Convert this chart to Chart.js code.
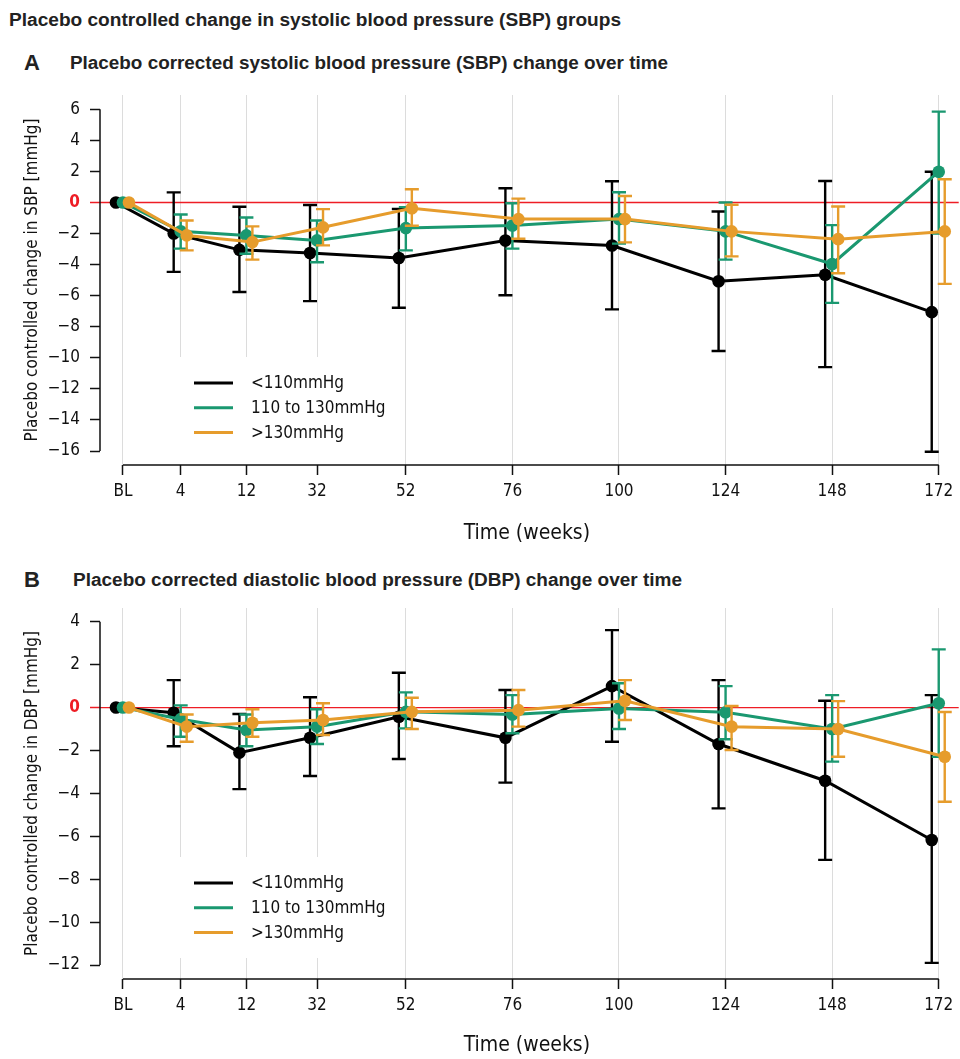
<!DOCTYPE html>
<html>
<head>
<meta charset="utf-8">
<script src="https://cdn.jsdelivr.net/npm/chart.js@4.4.1/dist/chart.umd.min.js"></script>
<style>
  body { margin: 0; background: #fff; width: 960px; height: 1059px; position: relative; overflow: hidden;
         font-family: "Liberation Sans", Arial, sans-serif; color: #222; }
  .h { position: absolute; font-weight: bold; white-space: nowrap; line-height: 1; transform-origin: 0 50%; }
  #main { left: 9px; top: 11px; font-size: 18px; }
  .tag { font-size: 22px; }
  .sub { font-size: 18px; }
  .box { position: absolute; left: 0; width: 960px; }
  #boxA { top: 80px; height: 480px; }
  #boxB { top: 590px; height: 469px; }
</style>
</head>
<body>
<div class="h" id="main" data-w="612">Placebo controlled change in systolic blood pressure (SBP) groups</div>
<div class="h tag" style="left:24px;top:52px">A</div>
<div class="h sub" style="left:70px;top:54px" data-w="598">Placebo corrected systolic blood pressure (SBP) change over time</div>
<div class="h tag" style="left:24px;top:569px">B</div>
<div class="h sub" style="left:73px;top:571px" data-w="609">Placebo corrected diastolic blood pressure (DBP) change over time</div>
<div class="box" id="boxA"><canvas id="chartA"></canvas></div>
<div class="box" id="boxB"><canvas id="chartB"></canvas></div>
<script>
// ---- data ----
var weeks = [0, 4, 12, 32, 52, 76, 100, 124, 148, 172];
var weekLabels = ["BL", "4", "12", "32", "52", "76", "100", "124", "148", "172"];
var groups = ["<110mmHg", "110 to 130mmHg", ">130mmHg"];

// SBP (panel A): mean, upper and lower CI
var sbpLow   = [0, -2.0, -3.05, -3.25, -3.57, -2.45, -2.77, -5.07, -4.65, -7.06];
var sbpLowHi = [null, 0.65, -0.27, -0.16, -0.42, 0.92, 1.37, -0.58, 1.38, 1.98];
var sbpLowLo = [null, -4.47, -5.76, -6.35, -6.78, -5.97, -6.88, -9.56, -10.6, -16.05];
var sbpMid   = [0, -1.85, -2.12, -2.44, -1.65, -1.48, -1.07, -1.86, -3.96, 1.98];
var sbpMidHi = [null, -0.77, -0.97, -1.16, -0.3, -0.05, 0.66, 0, -1.46, 5.85];
var sbpMidLo = [null, -2.97, -3.3, -3.85, -3.08, -2.97, -2.65, -3.68, -6.46, -2.0];
var sbpHigh   = [0, -2.12, -2.55, -1.6, -0.37, -1.07, -1.07, -1.86, -2.36, -1.86];
var sbpHighHi = [null, -1.16, -1.54, -0.43, 0.85, 0.25, 0.42, -0.15, -0.26, 1.5];
var sbpHighLo = [null, -3.08, -3.68, -2.76, -1.5, -2.33, -2.57, -3.47, -4.56, -5.24];

// DBP (panel B)
var dbpLow   = [0, -0.24, -2.1, -1.41, -0.43, -1.41, 1.0, -1.7, -3.41, -6.17];
var dbpLowHi = [null, 1.28, -0.3, 0.48, 1.62, 0.82, 3.61, 1.28, 0.32, 0.58];
var dbpLowLo = [null, -1.8, -3.8, -3.19, -2.4, -3.5, -1.59, -4.7, -7.1, -11.9];
var dbpMid   = [0, -0.54, -1.05, -0.89, -0.2, -0.32, -0.04, -0.22, -1.0, 0.2];
var dbpMidHi = [null, 0.1, -0.32, -0.08, 0.71, 0.58, 1.13, 1.0, 0.58, 2.71];
var dbpMidLo = [null, -1.36, -1.8, -1.7, -0.97, -1.2, -1.0, -1.48, -2.52, -2.29];
var dbpHigh   = [0, -0.89, -0.71, -0.58, -0.2, -0.12, 0.32, -0.89, -1.0, -2.29];
var dbpHighHi = [null, -0.32, -0.08, 0.2, 0.46, 0.82, 1.28, 0.07, 0.3, -0.21];
var dbpHighLo = [null, -1.59, -1.36, -1.28, -1.0, -0.89, -0.58, -1.98, -2.29, -4.39];

var sbpTicks = [6, 4, 2, 0, -2, -4, -6, -8, -10, -12, -14, -16];
var dbpTicks = [4, 2, 0, -2, -4, -6, -8, -10, -12];

// ---- styling ----
var colors = ["#000000", "#1a9870", "#e69c2c"];
var dodges = [-7, 0, 6];
var RED = "#ee1d25";
var FONT = '"DejaVu Sans Condensed", "Liberation Sans", sans-serif';
Chart.defaults.font.family = FONT;
Chart.defaults.color = "#111";

// headings: squeeze Liberation Sans Bold to a narrow face
document.querySelectorAll(".h[data-w]").forEach(function (el) {
  el.style.transform = "scaleX(" + (+el.dataset.w / el.getBoundingClientRect().width) + ")";
});

// x axis is stretched at the start (BL..32 weeks), linear after that
var axisStops = [[0, -11.7], [4, 1.3], [12, 16.1], [32, 32], [172, 172]];
function warp(v) {
  for (var i = 1; i < axisStops.length; i++) {
    var a = axisStops[i - 1], b = axisStops[i];
    if (v <= b[0] || i === axisStops.length - 1) return a[1] + (v - a[0]) * (b[1] - a[1]) / (b[0] - a[0]);
  }
}
function unwarp(u) {
  for (var i = 1; i < axisStops.length; i++) {
    var a = axisStops[i - 1], b = axisStops[i];
    if (u <= b[1] || i === axisStops.length - 1) return a[0] + (u - a[1]) * (b[0] - a[0]) / (b[1] - a[1]);
  }
}
class WeekScale extends Chart.LinearScale {
  getPixelForValue(v) { return v === null ? NaN : super.getPixelForValue(warp(v)); }
  getValueForPixel(p) { return unwarp(super.getValueForPixel(p)); }
}
WeekScale.id = "weeks";
WeekScale.defaults = {};
Chart.register(WeekScale);

function fmt(v) { return v < 0 ? "\u2212" + Math.abs(v) : String(v); }

var panelPlugin = {
  id: "panel",
  afterDatasetsUpdate: function (chart) {
    chart.data.datasets.forEach(function (ds, i) {
      chart.getDatasetMeta(i).data.forEach(function (pt) { pt.x += ds.dodge; });
    });
  },
  beforeDatasetsDraw: function (chart, args, opts) {
    var c = chart.ctx, a = chart.chartArea, x = chart.scales.x, y = chart.scales.y;
    var yt = opts.yTicks;
    c.save();
    // legend box hides the grid lines behind it
    var bx = a.left + opts.box[0], by = a.top + opts.box[1];
    c.fillStyle = "#fff";
    c.fillRect(bx, by, opts.box[2], opts.box[3]);
    // zero line
    c.strokeStyle = RED;
    c.lineWidth = 1.3;
    c.beginPath();
    c.moveTo(a.left, y.getPixelForValue(0));
    c.lineTo(a.right + 5, y.getPixelForValue(0));
    c.stroke();
    // detached axis lines
    c.strokeStyle = "#111";
    c.lineWidth = 1.5;
    c.beginPath();
    c.moveTo(a.left, y.getPixelForValue(yt[0]));
    c.lineTo(a.left, y.getPixelForValue(yt[yt.length - 1]));
    c.moveTo(x.getPixelForValue(weeks[0]), a.bottom);
    c.lineTo(x.getPixelForValue(weeks[weeks.length - 1]), a.bottom);
    c.stroke();
    // legend
    c.font = "17px " + FONT;
    c.textBaseline = "middle";
    c.fillStyle = "#111";
    c.lineWidth = 3;
    chart.data.datasets.forEach(function (ds, i) {
      var ry = by + 26 + i * 24.7;
      c.strokeStyle = ds.borderColor;
      c.beginPath();
      c.moveTo(bx + 54, ry);
      c.lineTo(bx + 93, ry);
      c.stroke();
      c.fillText(ds.label, bx + 111, ry + 1);
    });
    c.restore();
  },
  beforeDatasetDraw: function (chart, args) {
    var ds = chart.data.datasets[args.index];
    var c = chart.ctx, y = chart.scales.y;
    c.save();
    c.strokeStyle = ds.borderColor;
    c.lineWidth = 2.4;
    args.meta.data.forEach(function (pt, j) {
      if (ds.hi[j] === null) return;
      var t = y.getPixelForValue(ds.hi[j]), b = y.getPixelForValue(ds.lo[j]);
      c.beginPath();
      c.moveTo(pt.x, t); c.lineTo(pt.x, b);
      c.moveTo(pt.x - 7, t); c.lineTo(pt.x + 7, t);
      c.moveTo(pt.x - 7, b); c.lineTo(pt.x + 7, b);
      c.stroke();
    });
    c.restore();
  }
};

function makeChart(id, p) {
  var datasets = p.series.map(function (s, i) {
    return {
      label: groups[i],
      data: weeks.map(function (w, j) { return { x: w, y: s[0][j] }; }),
      hi: s[1], lo: s[2],
      dodge: dodges[i],
      borderColor: colors[i],
      backgroundColor: colors[i],
      pointBackgroundColor: colors[i],
      pointBorderWidth: 0,
      pointRadius: 6.3,
      borderWidth: 3,
      tension: 0,
      order: 3 - i
    };
  });
  return new Chart(document.getElementById(id), {
    type: "line",
    data: { datasets: datasets },
    plugins: [panelPlugin],
    options: {
      responsive: true,
      maintainAspectRatio: false,
      animation: false,
      layout: { padding: { top: p.top, right: 5, left: 0, bottom: 0 } },
      plugins: {
        legend: { display: false },
        tooltip: { enabled: false },
        panel: { yTicks: p.yTicks, box: p.box }
      },
      scales: {
        x: {
          type: "weeks",
          bounds: "data",
          min: -16.87,
          max: 175.37,
          afterBuildTicks: function (s) { s.ticks = weeks.map(function (w) { return { value: w }; }); },
          afterFit: function (s) { s.height = p.xHeight; s.paddingLeft = 0; s.paddingRight = 0; },
          border: { display: false },
          grid: { color: "#dcdcdc", lineWidth: 1, tickColor: "#111", tickWidth: 1.5, tickLength: 10 },
          ticks: {
            autoSkip: false, maxRotation: 0, padding: 6,
            font: { size: 17 },
            callback: function (v, i) { return weekLabels[i]; }
          },
          title: { display: true, text: "Time (weeks)", font: { size: 21 }, color: "#111",
                   padding: { top: 0, bottom: p.titlePad } }
        },
        y: {
          min: p.yMin,
          max: p.yMax,
          afterBuildTicks: function (s) { s.ticks = p.yTicks.map(function (v) { return { value: v }; }); },
          afterFit: function (s) { s.width = 100; s.paddingTop = 0; s.paddingBottom = 0; },
          border: { display: false },
          grid: {
            drawOnChartArea: false, tickLength: 10, tickWidth: 1.5,
            tickColor: function (ctx) { return ctx.tick && ctx.tick.value === 0 ? RED : "#111"; }
          },
          ticks: {
            padding: 10,
            font: function (ctx) { return { size: 17, weight: ctx.tick && ctx.tick.value === 0 ? "bold" : "normal" }; },
            color: function (ctx) { return ctx.tick && ctx.tick.value === 0 ? RED : "#111"; },
            callback: function (v) { return fmt(v); }
          },
          title: { display: true, text: p.yTitle, font: { size: 17 }, color: "#111",
                   padding: { top: 22, bottom: 0 } }
        }
      }
    }
  });
}

makeChart("chartA", {
  series: [[sbpLow, sbpLowHi, sbpLowLo], [sbpMid, sbpMidHi, sbpMidLo], [sbpHigh, sbpHighHi, sbpHighLo]],
  yTicks: sbpTicks, yMin: -16.9, yMax: 6.92,
  yTitle: "Placebo controlled change in SBP [mmHg]",
  top: 15, xHeight: 95, titlePad: 14,
  box: [40, 262, 220, 108]
});
makeChart("chartB", {
  series: [[dbpLow, dbpLowHi, dbpLowLo], [dbpMid, dbpMidHi, dbpMidLo], [dbpHigh, dbpHighHi, dbpHighLo]],
  yTicks: dbpTicks, yMin: -12.65, yMax: 4.64,
  yTitle: "Placebo controlled change in DBP [mmHg]",
  top: 18, xHeight: 80, titlePad: 1,
  box: [40, 249, 220, 101]
});
</script>
</body>
</html>
